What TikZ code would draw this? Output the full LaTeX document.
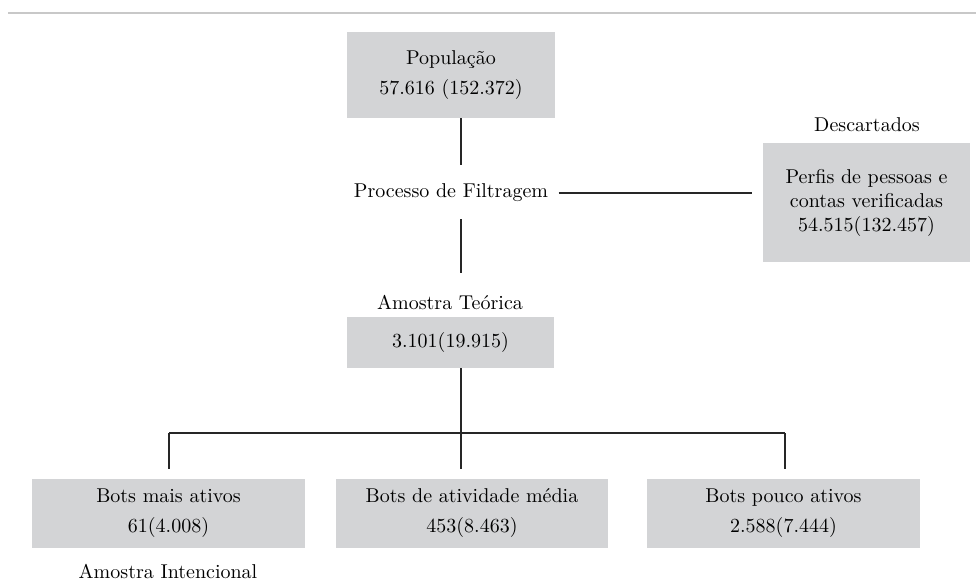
\documentclass[tikz,border=0pt]{standalone}
\usepackage{fontspec}
\usepackage{tikz}
\usetikzlibrary{positioning}

\definecolor{boxgray}{RGB}{211,212,214}
\definecolor{rulegray}{RGB}{200,200,200}

\tikzset{
  databox/.style = {fill=boxgray, align=center, inner sep=0pt,
                    font=\fontsize{10}{12}\selectfont},
  plainlbl/.style = {align=center, inner sep=1pt,
                     font=\fontsize{10}{12}\selectfont},
  link/.style = {black!85, line width=0.7pt}
}

\begin{document}
\begin{tikzpicture}[x=0.5pt, y=-0.5pt]

\useasboundingbox (0,0) rectangle (976,585);

% rule at the top
\draw[rulegray, line width=0.7pt] (8,13) -- (976,13);

% population and filtering
\node[databox, minimum width=104pt, minimum height=43pt] (pop) at (451,75)
  {População\\[3pt]57.616 (152.372)};
\node[plainlbl] (filt) at (451,193) {Processo de Filtragem};

% discarded profiles
\node[plainlbl] (desclbl) at (867,125) {Descartados};
\node[databox, minimum width=103.5pt, minimum height=59.5pt] (desc) at (866.5,202.5)
  {Perfis de pessoas e\\contas verificadas\\54.515(132.457)};

% theoretical sample
\node[plainlbl] (teolbl) at (450,302) {Amostra Teórica};
\node[databox, minimum width=103.5pt, minimum height=25.5pt] (teo) at (450.5,342.5)
  {3.101(19.915)};

% the three groups of bots
\node[databox, minimum width=136.5pt, minimum height=34.5pt] (mais) at (168.5,513.5)
  {Bots mais ativos\\[3pt]61(4.008)};
\node[databox, minimum width=136pt, minimum height=34.5pt] (media) at (472,513.5)
  {Bots de atividade média\\[3pt]453(8.463)};
\node[databox, minimum width=136.5pt, minimum height=34.5pt] (pouco) at (783.5,513.5)
  {Bots pouco ativos\\[3pt]2.588(7.444)};
\node[plainlbl] (intlbl) at (168,571) {Amostra Intencional};

% junction points of the tree
\coordinate (bar) at (461,433);
\coordinate (barl) at (169,433);
\coordinate (barr) at (785,433);
\coordinate (filttop) at (461,165);
\coordinate (filtbot) at (461,219);
\coordinate (teotop) at (461,273);

% connectors
\draw[link] (pop.south -| bar) -- (filttop);
\draw[link] (filtbot) -- (teotop);
\draw[link] (teo.south -| bar) -- (bar);
\draw[link] ([xshift=4pt]filt.east) -- ([xshift=-5.5pt]desc.west |- filt.east);
\draw[link] (barl) -- (barr);
\draw[link] (barl) -- ([yshift=5pt]barl |- mais.north);
\draw[link] (bar) -- ([yshift=5pt]bar |- media.north);
\draw[link] (barr) -- ([yshift=5pt]barr |- pouco.north);

\end{tikzpicture}
\end{document}
